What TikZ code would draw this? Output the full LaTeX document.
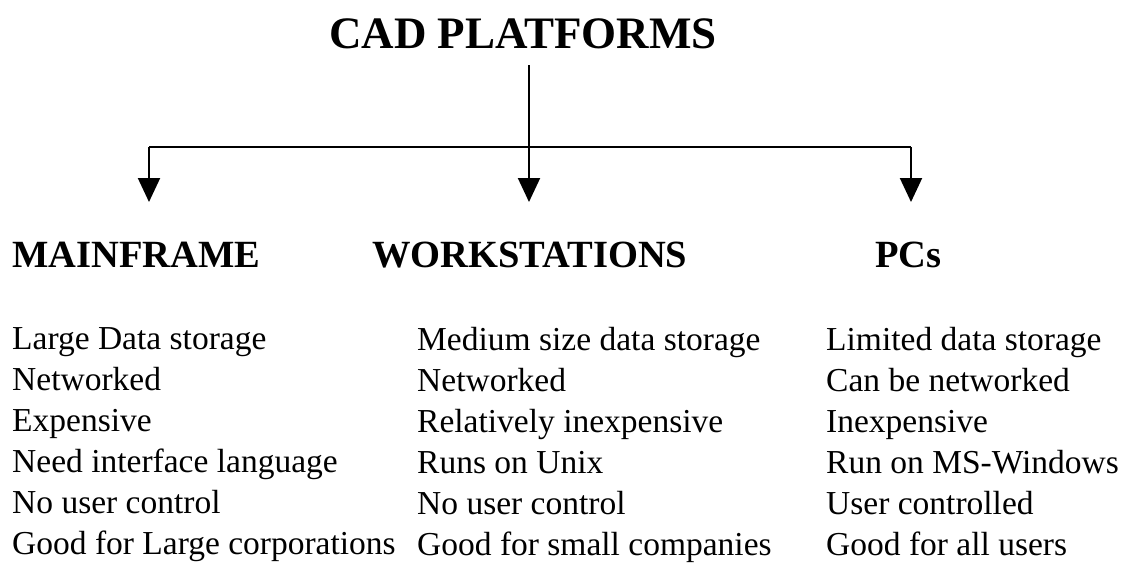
\documentclass[tikz,border=0pt]{standalone}
\usepackage{fontspec}
\setmainfont{Liberation Serif}
\usetikzlibrary{arrows.meta}
\tikzset{
  titletext/.style={anchor=base,inner sep=0pt,font=\fontsize{45}{50}\selectfont\bfseries},
  headtext/.style={anchor=base west,inner sep=0pt,font=\fontsize{38.5}{42}\selectfont\bfseries},
  itemtext/.style={anchor=north west,inner sep=0pt,align=left,font=\fontsize{33.5}{41}\selectfont},
  branch/.style={line width=2pt,-{Triangle[width=22pt,length=24pt]}},
  trunk/.style={line width=2pt}
}
\begin{document}
\begin{tikzpicture}[x=1pt,y=-1pt]
  \useasboundingbox (0,0) rectangle (1127,563);
  \node[titletext] (title) at (523,48) {CAD PLATFORMS};
  \coordinate (top) at (529,65);
  \coordinate (hub) at (529,147);
  \coordinate (hubleft) at (149,147);
  \coordinate (hubright) at (911,147);
  \node[headtext] (mainframe) at (12,267) {MAINFRAME};
  \node[headtext] (workstations) at (372,267) {WORKSTATIONS};
  \node[headtext] (pcs) at (875,267) {PCs};
  \coordinate (tipleft) at (149,202);
  \coordinate (tipmid) at (529,202);
  \coordinate (tipright) at (911,202);
  \draw[trunk] (top) -- (hub);
  \draw[trunk] (hubleft) -- (hubright);
  \draw[branch] (hubleft) -- (tipleft);
  \draw[branch] (hub) -- (tipmid);
  \draw[branch] (hubright) -- (tipright);
  \node[itemtext] (mainlist) at (12,327)
    {Large Data storage\\Networked\\Expensive\\Need interface language\\No user control\\Good for Large corporations};
  \node[itemtext] (worklist) at (417,327)
    {Medium size data storage\\Networked\\Relatively inexpensive\\Runs on Unix\\No user control\\Good for small companies};
  \node[itemtext] (pclist) at (826,327)
    {Limited data storage\\Can be networked\\Inexpensive\\Run on MS-Windows\\User controlled\\Good for all users};
\end{tikzpicture}
\end{document}
